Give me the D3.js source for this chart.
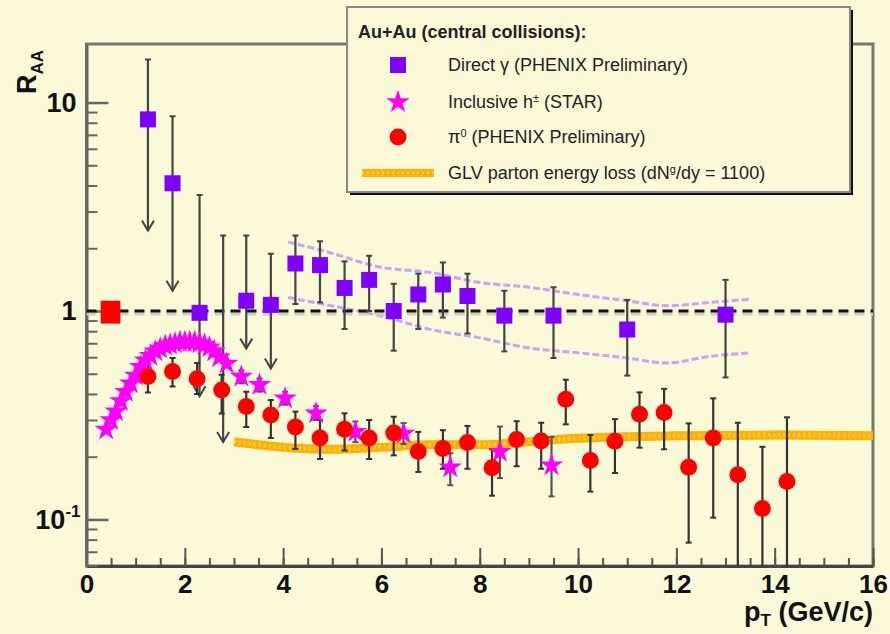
<!DOCTYPE html>
<html>
<head>
<meta charset="utf-8">
<script src="https://cdn.jsdelivr.net/npm/d3@7"></script>
<style>
body { margin: 0; background: #fafad8; }
text { font-family: "Liberation Sans", Arial, sans-serif; }
</style>
</head>
<body>
<svg id="chart" width="890" height="634"></svg>
<script>
// Direct photons (PHENIX preliminary), upper limits where lim = 1
const directPt  = [1.25, 1.75, 2.3, 2.78, 3.25, 3.75, 4.25, 4.75, 5.25, 5.75, 6.25, 6.75, 7.25, 7.75, 8.5, 9.5, 11.0, 13.0];
const directVal = [8.3, 4.1, 0.98, null, 1.12, 1.07, 1.69, 1.66, 1.29, 1.41, 1.0, 1.2, 1.34, 1.18, 0.95, 0.95, 0.815, 0.96];
const directHi  = [16.1, 8.6, 3.6, 2.3, 2.3, 1.88, 2.3, 2.16, 1.73, 1.84, 1.35, 1.51, 1.71, 1.51, 1.25, 1.3, 1.13, 1.41];
const directLo  = [2.43, 1.25, 0.39, 0.235, 0.66, 0.53, 1.08, 1.1, 0.82, 1.0, 0.645, 0.82, 0.93, 0.78, 0.64, 0.595, 0.49, 0.48];
const directLim = [1, 1, 1, 1, 1, 1, 0, 0, 0, 0, 0, 0, 0, 0, 0, 0, 0, 0];

// pQCD band around the direct photon points
const bandPt    = [4.1, 4.8, 6.0, 7.0, 8.0, 9.0, 10.0, 11.0, 11.8, 12.7, 13.5];
const bandUpper = [2.14, 1.95, 1.62, 1.53, 1.37, 1.3, 1.2, 1.12, 1.06, 1.1, 1.14];
const bandLower = [1.16, 1.08, 0.945, 0.816, 0.743, 0.665, 0.63, 0.595, 0.563, 0.607, 0.63];

// Inclusive charged hadrons (STAR)
const starPt  = [0.4, 0.5, 0.6, 0.7, 0.8, 0.9, 1.0, 1.1, 1.2, 1.3, 1.4, 1.5, 1.6, 1.7, 1.8, 1.9, 2.0, 2.1, 2.2, 2.3, 2.4, 2.5, 2.6, 2.7, 2.85,
                 3.15, 3.52, 4.04, 4.67, 5.47, 6.45, 7.4, 8.41, 9.46];
const starVal = [0.27, 0.3, 0.33, 0.37, 0.41, 0.45, 0.49, 0.54, 0.58, 0.61, 0.64, 0.66, 0.68, 0.69, 0.7, 0.71, 0.71, 0.71, 0.71, 0.7, 0.69, 0.67, 0.64, 0.6, 0.56,
                 0.485, 0.442, 0.381, 0.323, 0.263, 0.258, 0.178, 0.211, 0.182];
const starHi  = [null, null, null, null, null, null, null, null, null, null, null, null, null, null, null, null, null, null, null, null, null, null, null, null, null,
                 0.52, 0.475, 0.41, 0.35, 0.295, 0.29, 0.208, 0.279, 0.249];
const starLo  = [null, null, null, null, null, null, null, null, null, null, null, null, null, null, null, null, null, null, null, null, null, null, null, null, null,
                 0.45, 0.41, 0.355, 0.3, 0.235, 0.23, 0.146, 0.158, 0.129];

// Neutral pions (PHENIX preliminary)
const pi0Pt  = [1.25, 1.75, 2.25, 2.75, 3.25, 3.75, 4.25, 4.75, 5.25, 5.75, 6.25, 6.75, 7.25, 7.75, 8.25, 8.75, 9.25, 9.75, 10.25, 10.75, 11.25, 11.75, 12.25, 12.75, 13.25, 13.75, 14.25];
const pi0Val = [0.485, 0.513, 0.473, 0.418, 0.348, 0.317, 0.278, 0.246, 0.271, 0.246, 0.26, 0.212, 0.219, 0.234, 0.177, 0.242, 0.238, 0.377, 0.192, 0.237, 0.32, 0.326, 0.178, 0.246, 0.164, 0.113, 0.152];
const pi0Hi  = [0.578, 0.595, 0.563, 0.494, 0.41, 0.374, 0.329, 0.3, 0.323, 0.3, 0.311, 0.263, 0.268, 0.281, 0.217, 0.296, 0.291, 0.468, 0.254, 0.303, 0.407, 0.423, 0.289, 0.381, 0.291, 0.223, 0.309];
const pi0Lo  = [0.406, 0.434, 0.4, 0.322, 0.278, 0.246, 0.218, 0.195, 0.214, 0.195, 0.203, 0.169, 0.175, 0.175, 0.13, 0.18, 0.175, 0.286, 0.136, 0.167, 0.221, 0.217, 0.0774, 0.102, 0.05, 0.05, 0.05];

// GLV parton energy loss
const glvPt  = [3, 3.5, 4, 5, 6, 7, 8, 9, 10, 12, 14, 16];
const glvVal = [0.236, 0.228, 0.222, 0.217, 0.222, 0.228, 0.228, 0.236, 0.245, 0.252, 0.254, 0.252];

// normalisation uncertainty box at R_AA = 1
const normPt = [0.29, 0.69];
const normRange = [0.87, 1.12];

const xMajor = [0, 2, 4, 6, 8, 10, 12, 14, 16];

const svg = d3.select("#chart");
const x = d3.scaleLinear().domain([0, 16]).range([86.5, 873]);
const y = d3.scaleLog().domain([0.0598, 19.09]).range([566, 44]);

svg.append("rect").attr("width", 890).attr("height", 634).attr("fill", "#fafad8");

svg.append("defs").append("clipPath").attr("id", "plot")
    .append("rect")
    .attr("x", x(0)).attr("y", y(19.09))
    .attr("width", x(16) - x(0)).attr("height", y(0.0598) - y(19.09));

// frame
svg.append("rect")
    .attr("x", x(0)).attr("y", y(19.09))
    .attr("width", x(16) - x(0)).attr("height", y(0.0598) - y(19.09))
    .attr("fill", "none").attr("stroke", "#777").attr("stroke-width", 3);

// x axis: minor and major ticks pointing up
svg.append("g")
    .attr("transform", "translate(0," + y(0.0598) + ")")
    .call(d3.axisBottom(x).tickValues(d3.range(0, 16.01, 0.5)).tickSizeInner(-8).tickSizeOuter(0).tickFormat(""))
    .call(g => g.select(".domain").remove())
    .call(g => g.selectAll("line").attr("stroke", "#555").attr("stroke-width", 2));

svg.append("g")
    .attr("transform", "translate(0," + y(0.0598) + ")")
    .call(d3.axisBottom(x).tickValues(xMajor).tickSizeInner(-18).tickSizeOuter(0).tickPadding(9).tickFormat(d3.format("d")))
    .call(g => g.select(".domain").attr("stroke", "#444").attr("stroke-width", 3))
    .call(g => g.selectAll("line").attr("stroke", "#555").attr("stroke-width", 2))
    .call(g => g.selectAll("text").attr("font-size", 26).attr("font-weight", "bold").attr("fill", "#111")
        .attr("font-family", "'Liberation Sans', Arial, sans-serif"));

// y axis
const yMinor = y.ticks(20).filter(v => v >= 0.0598 && v <= 19.09);
const yMajor = [0.1, 1, 10];

svg.append("g")
    .attr("transform", "translate(" + x(0) + ",0)")
    .call(d3.axisLeft(y).tickValues(yMinor).tickSizeInner(-11).tickSizeOuter(0).tickFormat(""))
    .call(g => g.select(".domain").attr("stroke", "#666").attr("stroke-width", 3))
    .call(g => g.selectAll("line").attr("stroke", "#666").attr("stroke-width", 2));

const yAx = svg.append("g")
    .attr("transform", "translate(" + x(0) + ",0)")
    .call(d3.axisLeft(y).tickValues(yMajor).tickSizeInner(-22).tickSizeOuter(0).tickPadding(10)
        .tickFormat(d => d === 0.1 ? "" : String(d)))
    .call(g => g.select(".domain").remove())
    .call(g => g.selectAll("line").attr("stroke", "#666").attr("stroke-width", 2.5))
    .call(g => g.selectAll("text").attr("font-size", 27).attr("font-weight", "bold").attr("fill", "#111")
        .attr("font-family", "'Liberation Sans', Arial, sans-serif"));

// 10^-1 label
const tenth = yAx.selectAll(".tick").filter(d => d === 0.1).select("text");
tenth.append("tspan").text("10");
tenth.append("tspan").attr("font-size", 17).attr("dy", "-0.7em").text("-1");
tenth.attr("x", -6);

// axis titles
svg.append("text")
    .attr("transform", "translate(36,94) rotate(-90)")
    .attr("font-size", 27).attr("font-weight", "bold").attr("fill", "#111")
    .call(t => {
        t.append("tspan").text("R");
        t.append("tspan").attr("font-size", 17).attr("dy", 7).text("AA");
    });

svg.append("text")
    .attr("x", 873).attr("y", 621)
    .attr("text-anchor", "end")
    .attr("font-size", 27).attr("font-weight", "bold").attr("fill", "#111")
    .call(t => {
        t.append("tspan").text("p");
        t.append("tspan").attr("font-size", 17).attr("dy", 5).text("T");
        t.append("tspan").attr("dy", -5).text(" (GeV/c)");
    });

const plot = svg.append("g").attr("clip-path", "url(#plot)");

// theory band edges
const bandLine = d3.line().x(d => x(d[0])).y(d => y(d[1])).curve(d3.curveMonotoneX);
[bandUpper, bandLower].forEach(arr => {
    plot.append("path")
        .attr("d", bandLine(bandPt.map((p, i) => [p, arr[i]])))
        .attr("fill", "none")
        .attr("stroke", "#c9a2ff")
        .attr("stroke-width", 3)
        .attr("stroke-dasharray", "7,3");
});

// dashed line at R_AA = 1
plot.append("line")
    .attr("x1", x(0)).attr("x2", x(16))
    .attr("y1", y(1) + 3).attr("y2", y(1) + 3)
    .attr("stroke", "#cfcfc0").attr("stroke-width", 3).attr("stroke-dasharray", "10,6");
plot.append("line")
    .attr("x1", x(0)).attr("x2", x(16))
    .attr("y1", y(1)).attr("y2", y(1))
    .attr("stroke", "#111").attr("stroke-width", 3).attr("stroke-dasharray", "10,6");

// GLV curve
const glvLine = d3.line().x(d => x(d[0])).y(d => y(d[1])).curve(d3.curveMonotoneX);
const glvData = glvPt.map((p, i) => [p, glvVal[i]]);
plot.append("path")
    .attr("d", glvLine(glvData))
    .attr("fill", "none").attr("stroke", "#ffb000").attr("stroke-width", 9);
plot.append("path")
    .attr("d", glvLine(glvData))
    .attr("fill", "none").attr("stroke", "#ffd24a").attr("stroke-width", 4)
    .attr("stroke-dasharray", "2,3");

// error bars
function errorBars(g, pts, color) {
    pts.forEach(d => {
        if (d.hi == null) return;
        const cx = x(d.pt), yTop = y(d.hi), yBot = y(d.lo);
        g.append("line").attr("x1", cx).attr("x2", cx).attr("y1", yTop).attr("y2", yBot)
            .attr("stroke", color).attr("stroke-width", 2.2);
        g.append("line").attr("x1", cx - 3).attr("x2", cx + 3).attr("y1", yTop).attr("y2", yTop)
            .attr("stroke", color).attr("stroke-width", 2);
        if (d.lim) {
            g.append("path")
                .attr("d", "M" + (cx - 6) + "," + (yBot - 10) + "L" + cx + "," + yBot + "L" + (cx + 6) + "," + (yBot - 10))
                .attr("fill", "none").attr("stroke", color).attr("stroke-width", 2);
        } else {
            g.append("line").attr("x1", cx - 3).attr("x2", cx + 3).attr("y1", yBot).attr("y2", yBot)
                .attr("stroke", color).attr("stroke-width", 2);
        }
    });
}

const directData = directPt.map((p, i) => ({ pt: p, v: directVal[i], hi: directHi[i], lo: directLo[i], lim: directLim[i] }));
const starData = starPt.map((p, i) => ({ pt: p, v: starVal[i], hi: starHi[i], lo: starLo[i], lim: 0 }));
const pi0Data = pi0Pt.map((p, i) => ({ pt: p, v: pi0Val[i], hi: pi0Hi[i], lo: pi0Lo[i], lim: 0 }));

errorBars(plot, directData, "#444");
errorBars(plot, starData, "#555");
errorBars(plot, pi0Data, "#333");

// direct photon squares
plot.selectAll(".sq").data(directData.filter(d => d.v != null)).enter()
    .append("rect")
    .attr("x", d => x(d.pt) - 8).attr("y", d => y(d.v) - 8)
    .attr("width", 16).attr("height", 16)
    .attr("fill", "#8000ff");

// STAR stars
const star = d3.symbol().type(d3.symbolStar).size(170);
plot.selectAll(".st").data(starData).enter()
    .append("path")
    .attr("d", star)
    .attr("transform", d => "translate(" + x(d.pt) + "," + y(d.v) + ")")
    .attr("fill", "#ff00ff");

// pi0 circles
plot.selectAll(".ci").data(pi0Data).enter()
    .append("circle")
    .attr("cx", d => x(d.pt)).attr("cy", d => y(d.v)).attr("r", 8.5)
    .attr("fill", "#ff0000");

// normalisation box
plot.append("rect")
    .attr("x", x(normPt[0])).attr("y", y(normRange[1]))
    .attr("width", x(normPt[1]) - x(normPt[0]))
    .attr("height", y(normRange[0]) - y(normRange[1]))
    .attr("fill", "#ff0000");

// legend
const leg = svg.append("g");
leg.append("rect").attr("x", 350).attr("y", 10).attr("width", 503).attr("height", 185).attr("fill", "#111");
leg.append("rect").attr("x", 347).attr("y", 7).attr("width", 503).attr("height", 185)
    .attr("fill", "#fafad8").attr("stroke", "#888").attr("stroke-width", 2);

leg.append("text").attr("x", 358).attr("y", 38)
    .attr("font-size", 18).attr("font-weight", "bold").attr("fill", "#222")
    .text("Au+Au (central collisions):");

const rows = [65, 102, 137, 173];
leg.append("rect").attr("x", 390).attr("y", rows[0] - 8).attr("width", 16).attr("height", 16).attr("fill", "#8000ff");
leg.append("path").attr("d", star).attr("transform", "translate(398," + rows[1] + ")").attr("fill", "#ff00ff");
leg.append("circle").attr("cx", 398).attr("cy", rows[2]).attr("r", 8.5).attr("fill", "#ff0000");
leg.append("line").attr("x1", 362).attr("x2", 434).attr("y1", rows[3]).attr("y2", rows[3])
    .attr("stroke", "#ffb000").attr("stroke-width", 8);
leg.append("line").attr("x1", 362).attr("x2", 434).attr("y1", rows[3]).attr("y2", rows[3])
    .attr("stroke", "#ffd24a").attr("stroke-width", 3).attr("stroke-dasharray", "2,3");

function legText(row, parts) {
    const t = leg.append("text").attr("x", 448).attr("y", rows[row] + 6)
        .attr("font-size", 18).attr("fill", "#222");
    parts.forEach(p => {
        const s = t.append("tspan").text(p[0]);
        if (p[1] === "sup") s.attr("font-size", 11).attr("baseline-shift", "super");
    });
}
legText(0, [["Direct \u03b3 (PHENIX Preliminary)"]]);
legText(1, [["Inclusive h"], ["\u00b1", "sup"], [" (STAR)"]]);
legText(2, [["\u03c0"], ["0", "sup"], [" (PHENIX Preliminary)"]]);
legText(3, [["GLV parton energy loss (dN"], ["g", "sup"], ["/dy = 1100)"]]);
</script>
</body>
</html>
